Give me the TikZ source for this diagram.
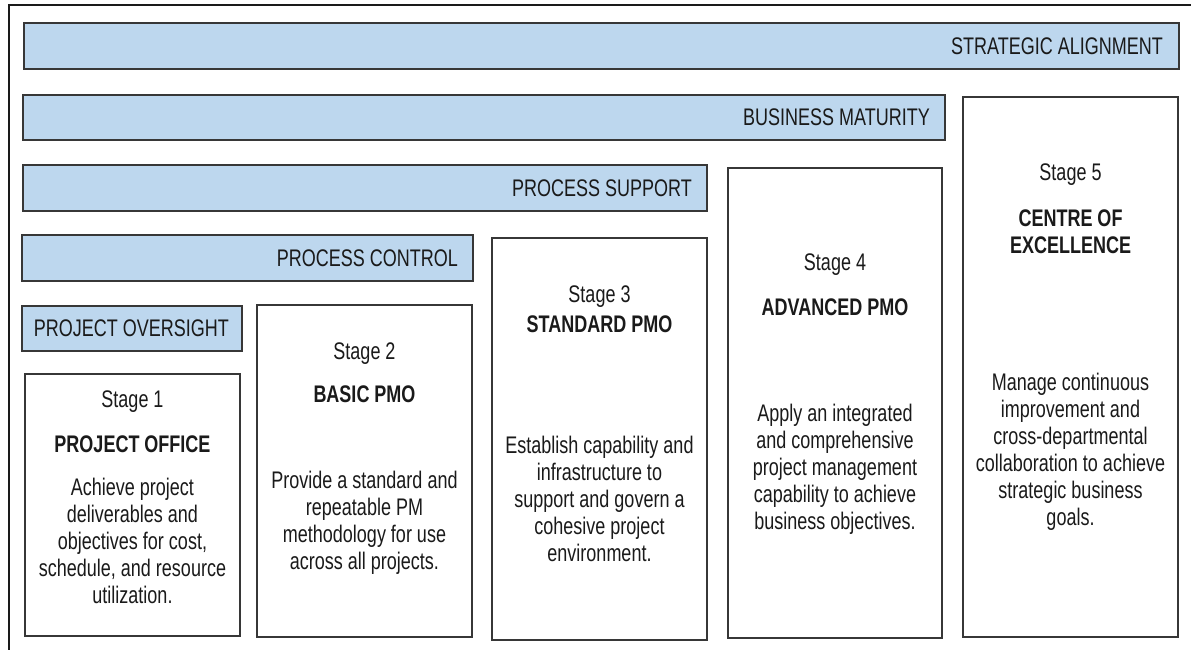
\documentclass[tikz,border=0pt]{standalone}
\usepackage{fontspec}
\setmainfont[FakeStretch=0.75]{Liberation Sans}
\definecolor{barblue}{RGB}{189,215,238}
\definecolor{ink}{RGB}{26,26,26}
\definecolor{edge}{RGB}{55,55,55}
\newcommand{\txtfont}{\fontsize{24}{27}\selectfont}
\begin{document}
\begin{tikzpicture}[x=1pt,y=-1pt,
  frameline/.style={draw=ink, line width=2pt},
  bar/.style={draw=edge, fill=barblue, line width=1.5pt, anchor=north west, inner sep=0pt, outer sep=0pt},
  stagebox/.style={draw=edge, fill=white, line width=1.3pt, anchor=north west, inner sep=0pt, outer sep=0pt},
  barlabel/.style={anchor=east, font=\txtfont, text=ink, inner sep=0pt},
  stagelabel/.style={font=\txtfont, text=ink, inner sep=0pt},
  titlelabel/.style={font=\txtfont\bfseries, text=ink, inner sep=0pt, align=center},
  bodytext/.style={font=\txtfont, text=ink, inner sep=0pt, align=center}]
\useasboundingbox (0,0) rectangle (1191,650);

% outer frame (top and left edges)
\coordinate (fbl) at (8.5,652);
\coordinate (ftl) at (8.5,5);
\coordinate (ftr) at (1193,5);
\draw[frameline] (fbl) -- (ftl) -- (ftr);

% capability bars
\node[bar, minimum width=1155pt, minimum height=46pt] (sa) at (24,23) {};
\node[bar, minimum width=922pt, minimum height=45pt] (bm) at (23,95) {};
\node[bar, minimum width=684pt, minimum height=46pt] (ps) at (23,165) {};
\node[bar, minimum width=451pt, minimum height=46pt] (pc) at (22,235) {};
\node[bar, minimum width=220pt, minimum height=45pt] (po) at (22,306) {};

\node[barlabel] (lsa) at ([xshift=-16pt]sa.east) {STRATEGIC ALIGNMENT};
\node[barlabel] (lbm) at ([xshift=-15pt]bm.east) {BUSINESS MATURITY};
\node[barlabel] (lps) at ([xshift=-15pt]ps.east) {PROCESS SUPPORT};
\node[barlabel] (lpc) at ([xshift=-15pt]pc.east) {PROCESS CONTROL};
\node[barlabel] (lpo) at ([xshift=-13pt]po.east) {PROJECT OVERSIGHT};

% stage boxes
\node[stagebox, minimum width=215pt, minimum height=262pt] (s1) at (25,374) {};
\node[stagebox, minimum width=215pt, minimum height=332pt] (s2) at (257,305) {};
\node[stagebox, minimum width=215pt, minimum height=402pt] (s3) at (492,238) {};
\node[stagebox, minimum width=214pt, minimum height=470pt] (s4) at (728,168) {};
\node[stagebox, minimum width=215pt, minimum height=540pt] (s5) at (963,97) {};

% stage 1
\node[stagelabel] (s1n) at (132.5,402) {Stage 1};
\node[titlelabel] (s1t) at (132.5,444) {PROJECT OFFICE};
\node[bodytext] (s1b) at (132.5,541) {Achieve project\\deliverables and\\objectives for cost,\\schedule, and resource\\utilization.};

% stage 2
\node[stagelabel] (s2n) at (364.5,354) {Stage 2};
\node[titlelabel] (s2t) at (364.5,394) {BASIC PMO};
\node[bodytext] (s2b) at (364.5,522.5) {Provide a standard and\\repeatable PM\\methodology for use\\across all projects.};

% stage 3
\node[stagelabel] (s3n) at (599.5,297) {Stage 3};
\node[titlelabel] (s3t) at (599.5,324) {STANDARD PMO};
\node[bodytext] (s3b) at (599.5,499) {Establish capability and\\infrastructure to\\support and govern a\\cohesive project\\environment.};

% stage 4
\node[stagelabel] (s4n) at (835,265) {Stage 4};
\node[titlelabel] (s4t) at (835,307) {ADVANCED PMO};
\node[bodytext] (s4b) at (835,469) {Apply an integrated\\and comprehensive\\project management\\capability to achieve\\business objectives.};

% stage 5
\node[stagelabel] (s5n) at (1070.5,175) {Stage 5};
\node[titlelabel] (s5t) at (1070.5,232) {CENTRE OF\\EXCELLENCE};
\node[bodytext] (s5b) at (1070.5,452) {Manage continuous\\improvement and\\cross-departmental\\collaboration to achieve\\strategic business\\goals.};
\end{tikzpicture}
\end{document}
